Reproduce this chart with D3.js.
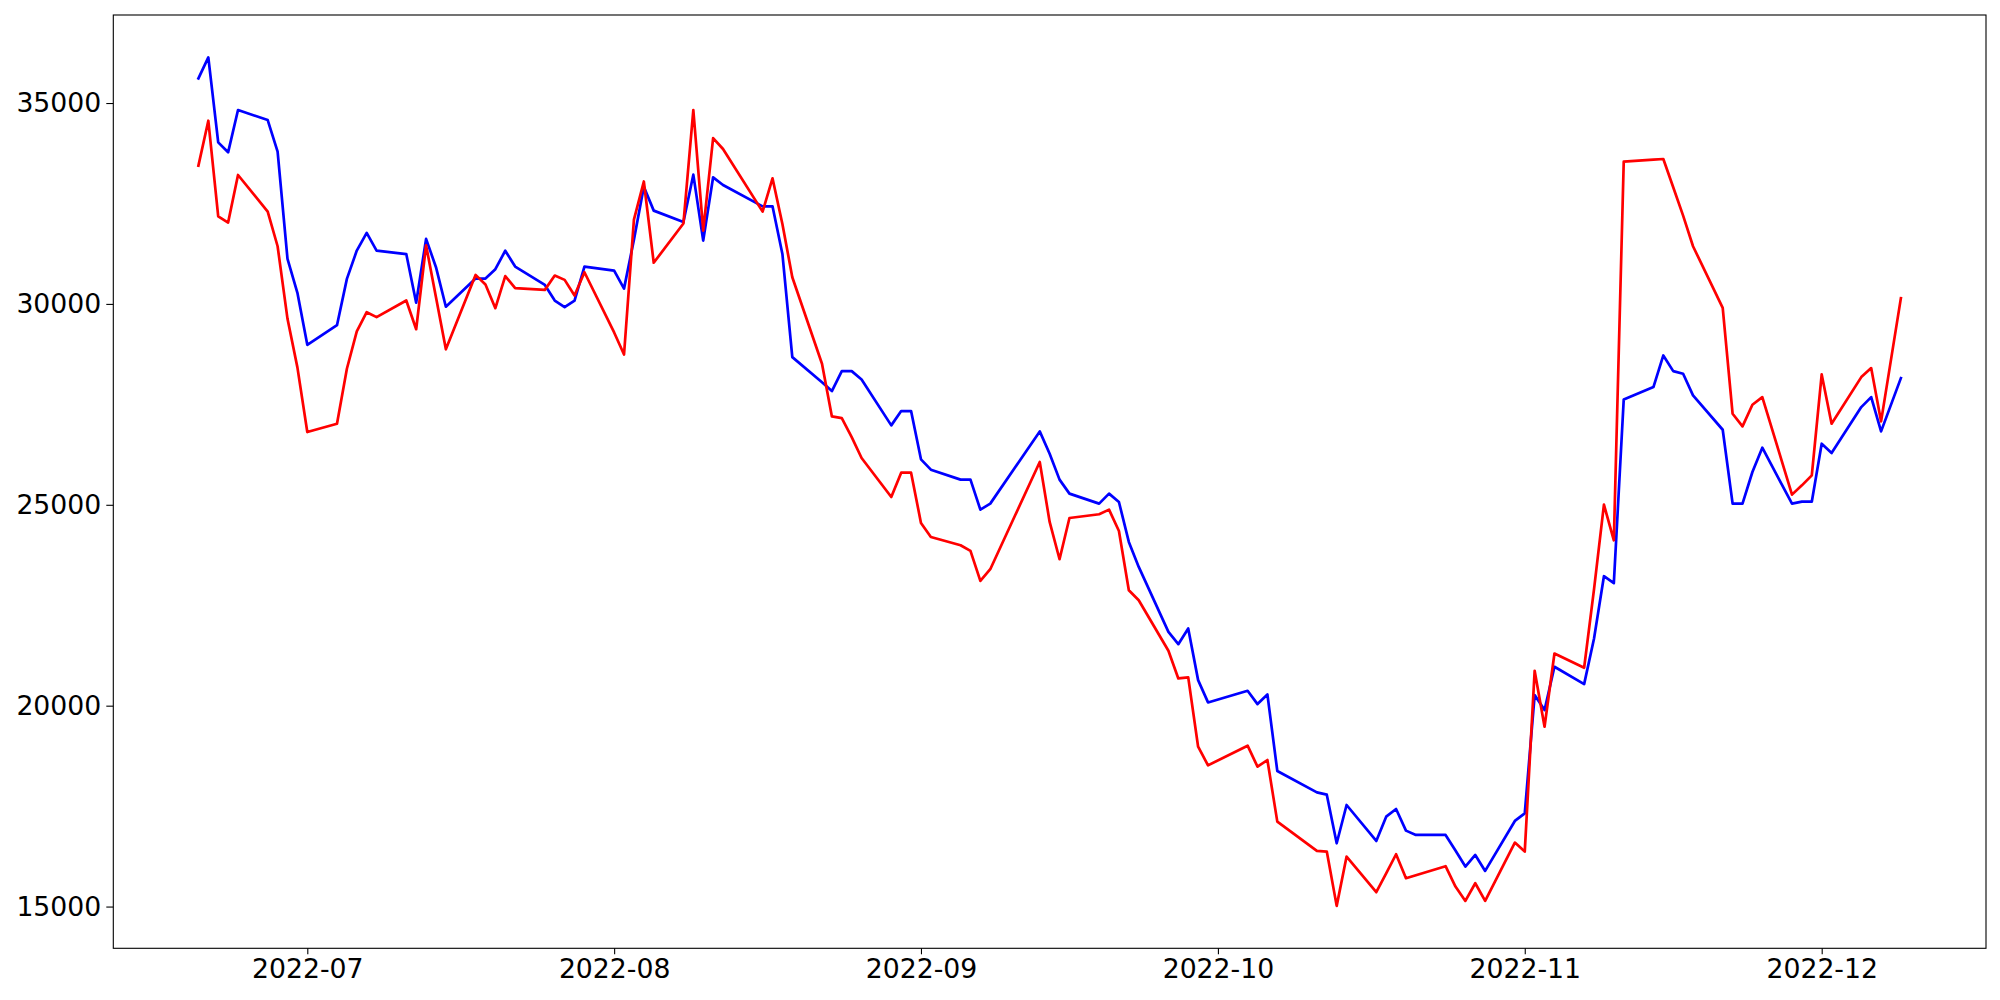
<!DOCTYPE html>
<html>
<head>
<meta charset="utf-8">
<script src="https://cdn.jsdelivr.net/npm/d3@7"></script>
<style>
  html, body { margin: 0; padding: 0; background: #fff; }
  svg { display: block; }
  .tick text { font-family: "DejaVu Sans", sans-serif; }
</style>
</head>
<body>
<svg id="chart" width="2000" height="1000"></svg>
<script>
const dates = [
  "2022-06-20","2022-06-21","2022-06-22","2022-06-23","2022-06-24","2022-06-27","2022-06-28","2022-06-29","2022-06-30",
  "2022-07-01","2022-07-04","2022-07-05","2022-07-06","2022-07-07","2022-07-08","2022-07-11","2022-07-12","2022-07-13","2022-07-14","2022-07-15",
  "2022-07-18","2022-07-19","2022-07-20","2022-07-21","2022-07-22","2022-07-25","2022-07-26","2022-07-27","2022-07-28","2022-07-29",
  "2022-08-01","2022-08-02","2022-08-03","2022-08-04","2022-08-05","2022-08-08","2022-08-09","2022-08-10","2022-08-11","2022-08-12",
  "2022-08-16","2022-08-17","2022-08-18","2022-08-19","2022-08-22","2022-08-23","2022-08-24","2022-08-25","2022-08-26","2022-08-29","2022-08-30","2022-08-31",
  "2022-09-01","2022-09-02","2022-09-05","2022-09-06","2022-09-07","2022-09-08","2022-09-13","2022-09-14","2022-09-15","2022-09-16",
  "2022-09-19","2022-09-20","2022-09-21","2022-09-22","2022-09-23","2022-09-26","2022-09-27","2022-09-28","2022-09-29","2022-09-30",
  "2022-10-04","2022-10-05","2022-10-06","2022-10-07","2022-10-11","2022-10-12","2022-10-13","2022-10-14","2022-10-17","2022-10-18","2022-10-19","2022-10-20","2022-10-21",
  "2022-10-24","2022-10-25","2022-10-26","2022-10-27","2022-10-28","2022-10-31",
  "2022-11-01","2022-11-02","2022-11-03","2022-11-04","2022-11-07","2022-11-08","2022-11-09","2022-11-10","2022-11-11",
  "2022-11-14","2022-11-15","2022-11-16","2022-11-17","2022-11-18","2022-11-21","2022-11-22","2022-11-23","2022-11-24","2022-11-25",
  "2022-11-28","2022-11-29","2022-11-30","2022-12-01","2022-12-02","2022-12-05","2022-12-06","2022-12-07","2022-12-09"
];

const blueValues = [
  35612,36135,34021,33773,34825,34576,33789,31120,30275,
  28982,29471,30623,31328,31767,31328,31240,30030,31618,30914,29930,
  30631,30631,30863,31323,30930,30473,30084,29918,30084,30929,
  30830,30380,31600,32918,32322,32040,33217,31576,33151,32960,
  32429,32429,31244,28675,28050,27830,28327,28327,28120,26977,27333,27333,
  26131,25874,25626,25626,24880,25029,26827,26272,25626,25278,
  25029,25278,25070,24076,23454,21838,21531,21921,20636,20081,
  20371,20040,20280,18374,17843,17785,16575,17528,16633,17238,17429,16890,16782,
  16782,16393,15995,16285,15887,17131,
  17321,20264,19890,20968,20537,21672,23222,23050,27623,
  27929,28717,28327,28261,27722,26868,25029,25029,25816,26421,
  25029,25078,25078,26520,26288,27432,27681,26827,28153
];

const redValues = [
  33441,34560,32181,32024,33209,32297,31435,29629,28420,
  26810,27019,28386,29314,29794,29670,30085,29370,31460,30168,28870,
  30722,30482,29894,30694,30395,30349,30706,30598,30208,30788,
  29290,28741,32100,33047,31025,32000,34825,31824,34128,33855,
  32297,33126,31990,30664,28509,27200,27159,26686,26164,25194,25800,25800,
  24548,24200,23993,23852,23106,23396,26065,24573,23645,24672,
  24764,24880,24349,22874,22625,21366,20678,20703,18979,18515,
  19004,18482,18647,17114,16385,16368,15017,16244,15357,15829,16302,15705,15780,
  16005,15498,15141,15581,15141,16592,
  16368,20868,19476,21299,20943,22900,25004,24117,33540,
  33590,33607,32902,32198,31435,29902,27266,26951,27490,27681,
  25253,25484,25733,28244,27018,28178,28402,27076,30142
];

const yTicks = [15000, 20000, 25000, 30000, 35000];
const xTickLabels = ["2022-07","2022-08","2022-09","2022-10","2022-11","2022-12"];

(function () {
  const parse = d3.timeParse("%Y-%m-%d");
  const parsedDates = dates.map(parse);
  const blueSeries = parsedDates.map((d, i) => ({ date: d, value: blueValues[i] }));
  const redSeries = parsedDates.map((d, i) => ({ date: d, value: redValues[i] }));

  const svg = d3.select("#chart");
  const pLeft = 113.3, pRight = 1986, pTop = 15, pBottom = 948.3;

  // matplotlib-like 5% margins
  const xExt = d3.extent(parsedDates);
  const xSpan = xExt[1] - xExt[0];
  const x = d3.scaleTime()
    .domain([new Date(+xExt[0] - 0.05 * xSpan), new Date(+xExt[1] + 0.05 * xSpan)])
    .range([pLeft, pRight]);

  const allVals = blueValues.concat(redValues);
  const yExt = d3.extent(allVals);
  const ySpan = yExt[1] - yExt[0];
  const y = d3.scaleLinear()
    .domain([yExt[0] - 0.05 * ySpan, yExt[1] + 0.05 * ySpan])
    .range([pBottom, pTop]);

  svg.append("rect").attr("width", 2000).attr("height", 1000).attr("fill", "#fff");

  const line = d3.line().x(d => x(d.date)).y(d => y(d.value));

  svg.append("path").datum(blueSeries)
    .attr("d", line).attr("fill", "none").attr("stroke", "#0000ff")
    .attr("stroke-width", 2.7).attr("stroke-linejoin", "round").attr("stroke-linecap", "square");

  svg.append("path").datum(redSeries)
    .attr("d", line).attr("fill", "none").attr("stroke", "#ff0000")
    .attr("stroke-width", 2.7).attr("stroke-linejoin", "round").attr("stroke-linecap", "square");

  const xTickDates = xTickLabels.map(s => parse(s + "-01"));
  const fmt = d3.timeFormat("%Y-%m");

  const xAxis = d3.axisBottom(x).tickValues(xTickDates).tickFormat(fmt).tickSize(6).tickPadding(5).tickSizeOuter(0);
  const yAxis = d3.axisLeft(y).tickValues(yTicks).tickFormat(d3.format("d")).tickSize(7).tickPadding(5).tickSizeOuter(0);

  const gx = svg.append("g").attr("transform", `translate(0,${pBottom})`).call(xAxis);
  const gy = svg.append("g").attr("transform", `translate(${pLeft},0)`).call(yAxis);

  [gx, gy].forEach(g => {
    g.select(".domain").remove();
    g.selectAll(".tick line").attr("stroke", "#000").attr("stroke-width", 1.1);
    g.selectAll(".tick text").attr("fill", "#000")
      .style("font-family", "'DejaVu Sans', sans-serif").style("font-size", "26.7px");
  });

  // frame (all four spines)
  svg.append("rect")
    .attr("x", pLeft).attr("y", pTop)
    .attr("width", pRight - pLeft).attr("height", pBottom - pTop)
    .attr("fill", "none").attr("stroke", "#000").attr("stroke-width", 1.1);
})();
</script>
</body>
</html>
